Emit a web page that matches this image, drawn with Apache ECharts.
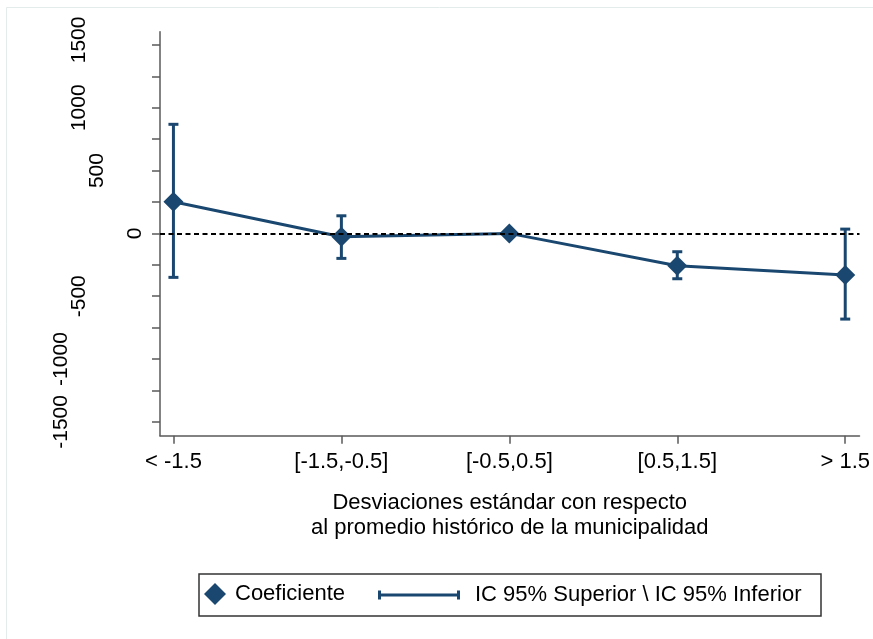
<!DOCTYPE html>
<html><head><meta charset="utf-8">
<script src="https://cdn.jsdelivr.net/npm/echarts@6/dist/echarts.min.js"></script>
<style>html,body{margin:0;padding:0;background:#fff}#c{width:873px;height:639px}</style>
</head><body><div id="c"></div>
<script>
const categories = ['< -1.5', '[-1.5,-0.5]', '[-0.5,0.5]', '[0.5,1.5]', '> 1.5'];
const coef = [252, -27, 0, -258, -332];
const ciUpper = [868, 140, null, -146, 34];
const ciLower = [-350, -199, null, -361, -682];
const yLabelValues = [-1500, -1000, -500, 0, 500, 1000, 1500];
const yTickValues = [-1500, -1250, -1000, -750, -500, -250, 0, 250, 500, 750, 1000, 1250, 1500];
const xTickValues = [1, 2, 3, 4, 5];

const C = '#1a476f';
const AX = '#5a5a5a';
const FONT = 'Liberation Sans, Arial, sans-serif';

const lineData = coef.map((v, i) => [i + 1, v]);
const ciData = [];
ciUpper.forEach((u, i) => { if (u !== null && ciLower[i] !== null) ciData.push([i + 1, u, ciLower[i]]); });

const richBase = { fontSize: 21, fontFamily: FONT, color: '#000' };
const rich = {
  a: Object.assign({}, richBase, { padding: [0, 0, 0, 0] }),
  b: Object.assign({}, richBase, { padding: [0, 0, 38, 0] }),
  c: Object.assign({}, richBase, { padding: [0, 0, 56, 0] }),
  d: Object.assign({}, richBase, { padding: [0, 0, 74, 0] }),
  e: Object.assign({}, richBase, { padding: [0, 0, 56, 10] })
};

const chart = echarts.init(document.getElementById('c'));
chart.setOption({
  backgroundColor: '#fff',
  animation: false,
  textStyle: { fontFamily: FONT },
  grid: { left: 160, right: 12.3, top: 31.7, bottom: 203.3, containLabel: false },
  xAxis: {
    type: 'value', min: 0.92, max: 5.085,
    splitLine: { show: false },
    axisLine: { show: true, onZero: false, lineStyle: { color: AX, width: 1.5 } },
    axisTick: { show: true, length: 8, customValues: xTickValues, lineStyle: { color: AX, width: 1.5 } },
    axisLabel: {
      customValues: xTickValues,
      formatter: v => categories[Math.round(v) - 1],
      fontSize: 22, color: '#000', margin: 15, fontFamily: FONT
    },
    name: 'Desviaciones estándar con respecto\nal promedio histórico de la municipalidad',
    nameLocation: 'middle', nameGap: 55,
    nameTextStyle: { fontSize: 22, lineHeight: 25, color: '#000', fontFamily: FONT }
  },
  yAxis: {
    type: 'value', min: -1610, max: 1605,
    splitLine: { show: false },
    axisLine: { show: true, onZero: false, lineStyle: { color: AX, width: 1.5 } },
    axisTick: { show: true, length: 8, customValues: yTickValues, lineStyle: { color: AX, width: 1.5 } },
    axisLabel: {
      customValues: yLabelValues,
      rotate: 90, margin: 14.5,
      formatter: v => {
        const s = String(v);
        const k = v === 1500 ? 'e' : ({ 1: 'a', 3: 'b', 4: 'c', 5: 'd' })[s.length];
        return '{' + k + '|' + s + '}';
      },
      rich: rich, fontSize: 21, color: '#000'
    }
  },
  legend: [
    {
      data: [{ name: 'Coeficiente', icon: 'diamond' }],
      left: 204, top: 583, padding: 0, itemWidth: 22, itemHeight: 22,
      selectedMode: false,
      textStyle: { fontSize: 22, color: '#000', fontFamily: FONT, padding: [0, 0, 0, 4] }
    },
    {
      data: [{ name: 'IC 95% Superior \\ IC 95% Inferior', icon: 'path://M0,0h3v9h-3zM3,3h76v3h-76zM79,0h3v9h-3z' }],
      left: 378, top: 584, padding: 0, itemWidth: 82, itemHeight: 9,
      selectedMode: false,
      textStyle: { fontSize: 22, color: '#000', fontFamily: FONT, padding: [0, 0, 0, 10] }
    }
  ],
  graphic: [
    { type: 'polyline', shape: { points: [[6.5, 639], [6.5, 7.5], [873, 7.5]] }, style: { fill: 'none', stroke: '#e4ebeb', lineWidth: 1 }, silent: true, z: -1 },
    { type: 'rect', shape: { x: 199, y: 574, width: 622, height: 42 }, style: { fill: 'none', stroke: '#333', lineWidth: 1.5 }, silent: true }
  ],
  series: [
    {
      name: 'IC 95% Superior \\ IC 95% Inferior',
      type: 'custom',
      data: ciData,
      encode: { x: 0, y: [1, 2] },
      itemStyle: { color: C },
      z: 2,
      renderItem: (params, api) => {
        const x = api.value(0), hi = api.value(1), lo = api.value(2);
        const pHi = api.coord([x, hi]);
        const pLo = api.coord([x, lo]);
        const hw = 5;
        const style = { stroke: C, lineWidth: 3, fill: 'none' };
        return {
          type: 'group',
          children: [
            { type: 'line', shape: { x1: pHi[0], y1: pHi[1], x2: pLo[0], y2: pLo[1] }, style },
            { type: 'line', shape: { x1: pHi[0] - hw, y1: pHi[1], x2: pHi[0] + hw, y2: pHi[1] }, style },
            { type: 'line', shape: { x1: pLo[0] - hw, y1: pLo[1], x2: pLo[0] + hw, y2: pLo[1] }, style }
          ]
        };
      }
    },
    {
      name: 'Coeficiente',
      type: 'line',
      data: lineData,
      symbol: 'diamond', symbolSize: 20,
      lineStyle: { width: 3, color: C },
      itemStyle: { color: C },
      z: 3,
      markLine: {
        silent: true, symbol: 'none', label: { show: false },
        lineStyle: { color: '#000', type: [5, 3.5], width: 2 },
        data: [{ yAxis: 0 }]
      }
    }
  ]
});
</script>
</body></html>
